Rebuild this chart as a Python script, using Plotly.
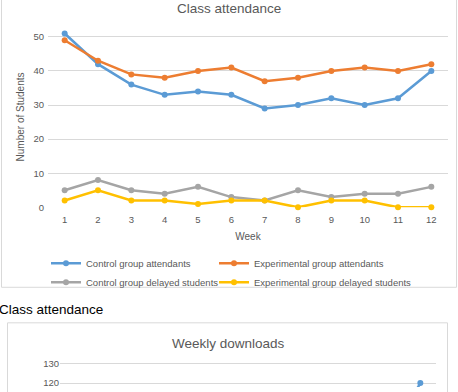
import plotly.graph_objects as go

W, H = 458, 392

weeks = ["1", "2", "3", "4", "5", "6", "7", "8", "9", "10", "11", "12"]
control_att = [51, 42, 36, 33, 34, 33, 29, 30, 32, 30, 32, 40]
experimental_att = [49, 43, 39, 38, 40, 41, 37, 38, 40, 41, 40, 42]
control_delayed = [5, 8, 5, 4, 6, 3, 2, 5, 3, 4, 4, 6]
experimental_delayed = [2, 5, 2, 2, 1, 2, 2, 0, 2, 2, 0, 0]

download_weeks = weeks
downloads = [None, None, None, None, None, None, None, None, None, None, 92, 120]

names = ["Control group attendants", "Experimental group attendants",
         "Control group delayed students", "Experimental group delayed students"]
colors = ["#5B9BD5", "#ED7D31", "#A5A5A5", "#FFC000"]
series = [control_att, experimental_att, control_delayed, experimental_delayed]
legend_ids = ["legend", "legend2", "legend", "legend2"]

FONT = "Liberation Sans"
GREY = "#595959"


def px(x):
    return x / W


def py(y):
    return 1 - y / H


fig = go.Figure()
for n, c, s, lg in zip(names, colors, series, legend_ids):
    fig.add_trace(go.Scatter(
        x=weeks, y=s, name=n, mode="lines+markers",
        line=dict(color=c, width=2.5),
        marker=dict(color=c, size=6),
        cliponaxis=False, legend=lg,
        xaxis="x", yaxis="y",
    ))

fig.add_trace(go.Scatter(
    x=download_weeks, y=downloads, name="Downloads", mode="lines+markers",
    line=dict(color="#5B9BD5", width=2.5), marker=dict(color="#5B9BD5", size=6),
    showlegend=False, cliponaxis=False, xaxis="x2", yaxis="y2",
))

axis_common = dict(showline=False, zeroline=False, ticks="",
                   tickfont=dict(family=FONT, size=9.5, color=GREY),
                   fixedrange=True)

legend_common = dict(orientation="v", xanchor="left", yanchor="top",
                     font=dict(family=FONT, size=9.5, color=GREY),
                     itemwidth=30, bgcolor="rgba(0,0,0,0)", tracegroupgap=0)

fig.update_layout(
    width=W, height=H,
    margin=dict(l=0, r=0, t=0, b=0),
    paper_bgcolor="white", plot_bgcolor="white",
    font=dict(family=FONT, color=GREY),
    showlegend=True,
    xaxis=dict(domain=[px(48), px(448)], anchor="y", type="category",
               range=[-0.5, 11.5], showgrid=False, ticklabelstandoff=5,
               title=dict(text="Week", font=dict(family=FONT, size=10, color=GREY), standoff=9),
               **axis_common),
    yaxis=dict(domain=[py(210), py(27)], anchor="x", range=[0, 53],
               tickvals=[0, 10, 20, 30, 40, 50], ticklabelstandoff=3,
               showgrid=True, gridcolor="#D9D9D9", gridwidth=1,
               title=dict(text="Number of Students", font=dict(family=FONT, size=10, color=GREY), standoff=6),
               **axis_common),
    xaxis2=dict(domain=[px(60), px(436)], anchor="y2", type="category",
                range=[-0.5, 11.5], showgrid=False, showticklabels=False,
                **axis_common),
    yaxis2=dict(domain=[0, py(360)], anchor="x2", range=[118, 134],
                tickvals=[120, 130], showgrid=True, gridcolor="#D9D9D9",
                **axis_common),
    legend=dict(x=px(46), y=py(252), **legend_common),
    legend2=dict(x=px(214), y=py(252), **legend_common),
    shapes=[
        dict(type="rect", xref="paper", yref="paper",
             x0=px(1.5), x1=px(456.5), y0=py(291), y1=py(-5),
             line=dict(color="#D9D9D9", width=1), layer="below"),
        dict(type="rect", xref="paper", yref="paper",
             x0=px(7.5), x1=px(447.5), y0=py(400), y1=py(327),
             line=dict(color="#D9D9D9", width=1), layer="below"),
    ],
    annotations=[
        dict(text="Class attendance", xref="paper", yref="paper",
             x=px(229), y=py(9), xanchor="center", yanchor="middle",
             showarrow=False, font=dict(family=FONT, size=13.5, color=GREY)),
        dict(text="Class attendance", xref="paper", yref="paper",
             x=px(-3), y=py(314), xanchor="left", yanchor="middle",
             showarrow=False, font=dict(family=FONT, size=13.5, color="#000000")),
        dict(text="Weekly downloads", xref="paper", yref="paper",
             x=px(228), y=py(348), xanchor="center", yanchor="middle",
             showarrow=False, font=dict(family=FONT, size=13.5, color=GREY)),
    ],
)

fig.write_html("out.html")
